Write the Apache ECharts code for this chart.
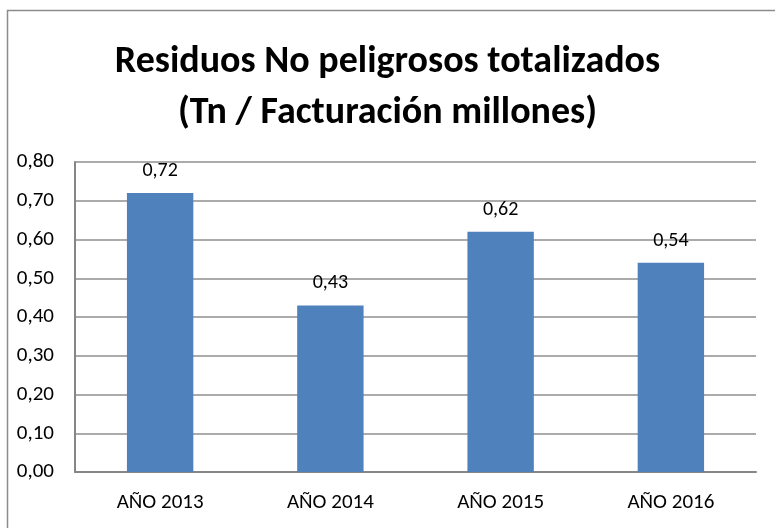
<!DOCTYPE html>
<html>
<head>
<meta charset="utf-8">
<script src="https://cdn.jsdelivr.net/npm/echarts@6/dist/echarts.min.js"></script>
<style>
  html, body { margin: 0; padding: 0; background: #fff; }
  #chart { width: 775px; height: 528px; }
</style>
</head>
<body>
<div id="chart"></div>
<script>
const titleLines = ['Residuos No peligrosos totalizados', '(Tn / Facturación millones)']
const categories = ['AÑO 2013', 'AÑO 2014', 'AÑO 2015', 'AÑO 2016']
const values = [0.72, 0.43, 0.62, 0.54]

const fontFamily = 'Carlito, Lato, "Open Sans", sans-serif'
const comma = (v) => v.toFixed(2).replace('.', ',')

const chart = echarts.init(document.getElementById('chart'))

chart.setOption({
  backgroundColor: '#fff',
  animation: false,
  graphic: [
    {
      type: 'rect',
      shape: { x: 7.5, y: 10.5, width: 800, height: 600 },
      style: { fill: 'none', stroke: '#8c8c8c', lineWidth: 1.5 },
      silent: true,
    },
  ],
  title: {
    text: titleLines.join('\n'),
    left: 'center',
    top: 32,
    textStyle: {
      fontFamily,
      fontSize: 38,
      fontWeight: 'bold',
      color: '#000',
      lineHeight: 51,
    },
  },
  grid: { left: 75, right: 19, top: 162, bottom: 56 },
  xAxis: {
    type: 'category',
    data: categories,
    axisLine: { lineStyle: { color: '#868686', width: 2 } },
    axisTick: { show: false },
    axisLabel: { fontFamily, fontSize: 21, color: '#000', margin: 20 },
  },
  yAxis: {
    type: 'value',
    min: 0,
    max: 0.8,
    interval: 0.1,
    axisLine: { show: true, lineStyle: { color: '#868686', width: 2 } },
    axisTick: { show: false },
    axisLabel: { fontFamily, fontSize: 21, color: '#000', margin: 21, formatter: comma },
    splitLine: { lineStyle: { color: '#8f8f8f', width: 1.5 } },
  },
  series: [
    {
      type: 'bar',
      data: values,
      barWidth: '39%',
      itemStyle: { color: '#4F81BD' },
      label: {
        show: true,
        position: 'top',
        distance: 12,
        fontFamily,
        fontSize: 20,
        color: '#000',
        formatter: (p) => comma(p.value),
      },
    },
  ],
})
</script>
</body>
</html>
